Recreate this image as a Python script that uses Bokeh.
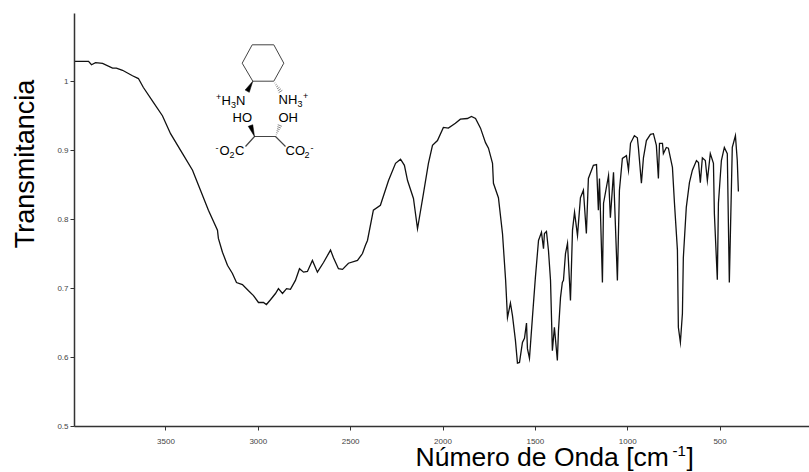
from bokeh.plotting import figure
from bokeh.models import Range1d
from bokeh.core.properties import value
from bokeh.embed import file_html
from bokeh.resources import INLINE
import math

wavenumber = [3995,3919,3903,3881,3843,3789,3768,3735,3681,3649,3622,3567,3519,3475,3410,3356,3340,3313,3270,3221,3216,3194,3167,3140,3118,3086,3053,3026,2999,2972,2956,2934,2907,2891,2869,2847,2826,2799,2777,2755,2734,2707,2680,2647,2609,2593,2566,2544,2512,2463,2436,2420,2409,2377,2339,2295,2257,2230,2209,2192,2160,2138,2133,2106,2079,2057,2030,1998,1971,1933,1906,1868,1846,1824,1797,1770,1754,1732,1727,1700,1678,1661,1651,1635,1624,1608,1597,1586,1570,1559,1548,1543,1532,1516,1500,1483,1467,1456,1451,1440,1429,1418,1408,1397,1381,1375,1364,1354,1348,1337,1326,1310,1299,1288,1272,1256,1240,1224,1213,1186,1169,1159,1153,1137,1131,1104,1094,1077,1056,1045,1029,1007,996,985,964,948,942,926,915,899,877,861,845,834,828,812,807,791,780,758,747,731,726,715,704,699,683,666,650,628,617,607,596,580,569,553,536,531,515,509,493,477,461,450,434,417,407,401]
transmittance = [1.030,1.030,1.025,1.028,1.027,1.020,1.020,1.017,1.009,1.005,0.992,0.970,0.951,0.925,0.896,0.872,0.861,0.843,0.814,0.785,0.773,0.753,0.734,0.722,0.709,0.706,0.697,0.690,0.680,0.680,0.677,0.684,0.693,0.700,0.693,0.700,0.699,0.712,0.729,0.724,0.725,0.741,0.724,0.738,0.756,0.745,0.729,0.728,0.737,0.741,0.751,0.763,0.770,0.814,0.821,0.857,0.882,0.888,0.879,0.857,0.831,0.787,0.795,0.838,0.882,0.908,0.915,0.934,0.933,0.940,0.946,0.947,0.950,0.947,0.933,0.912,0.904,0.882,0.853,0.832,0.780,0.712,0.658,0.679,0.661,0.625,0.592,0.593,0.622,0.628,0.650,0.613,0.599,0.658,0.716,0.770,0.782,0.758,0.780,0.783,0.755,0.712,0.610,0.644,0.596,0.639,0.687,0.709,0.712,0.751,0.766,0.683,0.785,0.811,0.777,0.832,0.843,0.780,0.860,0.879,0.880,0.814,0.860,0.709,0.824,0.864,0.803,0.869,0.712,0.843,0.889,0.893,0.872,0.911,0.922,0.919,0.904,0.853,0.890,0.915,0.924,0.925,0.908,0.860,0.911,0.911,0.896,0.905,0.904,0.876,0.824,0.756,0.644,0.622,0.664,0.745,0.818,0.854,0.872,0.886,0.883,0.854,0.890,0.886,0.857,0.896,0.882,0.809,0.713,0.824,0.886,0.905,0.896,0.709,0.905,0.922,0.886,0.841]

x_ticks = [3500, 3000, 2500, 2000, 1500, 1000, 500]
y_ticks = [1.0, 0.9, 0.8, 0.7, 0.6, 0.5]
y_tick_labels = {1.0: "1", 0.9: "0.9", 0.8: "0.8", 0.7: "0.7", 0.6: "0.6", 0.5: "0.5"}
FONT = value("Liberation Sans")

p = figure(width=809, height=472, output_backend="svg", toolbar_location=None,
           x_range=Range1d(3995, 16), y_range=Range1d(0.5, 1.0994),
           min_border_left=74, min_border_right=0, min_border_top=13, min_border_bottom=46)
p.outline_line_color = None
p.grid.visible = False
p.background_fill_color = "white"

for ax in (p.xaxis[0], p.yaxis[0]):
    ax.axis_line_color = "#333333"
    ax.axis_line_width = 1.5
    ax.major_tick_line_color = "#333333"
    ax.major_tick_line_width = 1
    ax.major_tick_in = 0
    ax.major_tick_out = 4
    ax.minor_tick_line_color = None
    ax.major_label_text_font = "Liberation Sans"
    ax.major_label_text_font_size = "8px"
    ax.major_label_text_color = "#444444"
p.xaxis[0].ticker = x_ticks
p.yaxis[0].ticker = y_ticks
p.yaxis[0].major_label_overrides = y_tick_labels
p.xaxis[0].major_label_standoff = 8
p.yaxis[0].major_label_standoff = 2

p.line(wavenumber, transmittance, line_color="#111111", line_width=1.3, line_join="miter")

# page-pixel coordinate system for the annotation drawing and free-standing titles
p.extra_x_ranges["px"] = Range1d(74, 809)
p.extra_y_ranges["px"] = Range1d(426, 13)
PX = dict(x_range_name="px", y_range_name="px")


def txt(s, x, y, size, angle=0.0, align="left"):
    # the renderer sets alphabetic text about 0.37 em past the requested baseline
    off = 0.37 * size
    if angle:
        x -= off
    else:
        y -= off
    p.text([x], [y], text=[s], text_font=FONT, text_font_size=value(f"{size}px"),
           text_color="black", text_align=align, text_baseline="alphabetic",
           angle=angle, level="overlay", **PX)


txt("Transmitancia", 34, 163.5, 27, angle=math.pi / 2, align="center")
txt("Número de Onda [cm", 415, 466, 26.5)
txt("-1", 672, 456, 15)
txt("]", 686, 466, 26.5)

# molecule
ring_x = [251.7, 273.3, 283.3, 273.3, 252.3, 241.7, 251.7]
ring_y = [44.3, 44.3, 62.7, 80.7, 80.7, 62.7, 44.3]
bond_color = "#444444"
p.line(ring_x, ring_y, line_color=bond_color, line_width=1, level="overlay", **PX)
p.line([245, 254, 275, 285], [146, 136, 136, 146], line_color=bond_color, line_width=1.2, level="overlay", **PX)


def wedge(x0, y0, x1, y1, w=2.4):
    dx, dy = x1 - x0, y1 - y0
    n = math.hypot(dx, dy)
    ox, oy = -dy / n * w, dx / n * w
    p.patch([x0, x1 + ox, x1 - ox], [y0, y1 + oy, y1 - oy], fill_color="black", line_color="black",
            line_width=0.5, level="overlay", **PX)


def hashed(x0, y0, x1, y1, w=2.2, k=6):
    dx, dy = x1 - x0, y1 - y0
    n = math.hypot(dx, dy)
    ox, oy = -dy / n, dx / n
    xs, ys = [], []
    for i in range(1, k + 1):
        t = i / k
        cx, cy = x0 + dx * t, y0 + dy * t
        xs.append([cx - ox * w * t, cx + ox * w * t])
        ys.append([cy - oy * w * t, cy + oy * w * t])
    p.multi_line(xs, ys, line_color="#555555", line_width=0.7, level="overlay", **PX)


wedge(252.3, 80.7, 246.7, 90.7)
hashed(273.3, 80.7, 280, 91)
wedge(254, 136, 250, 125)
hashed(275, 136, 279.3, 125)

for s, x, y, size in [
    ("+", 215.5, 100, 9), ("H", 221, 105, 13), ("3", 230.4, 108, 9), ("N", 235.5, 105, 13),
    ("NH", 278, 104, 13), ("3", 297, 107, 9), ("+", 302.5, 99, 9),
    ("HO", 232, 121.7, 13), ("OH", 278, 121.7, 13),
    ("-", 215, 151, 9), ("O", 219, 155, 13), ("2", 229, 158, 9), ("C", 234.5, 155, 13),
    ("CO", 285, 155, 13), ("2", 304, 158, 9), ("-", 310, 151, 9),
]:
    txt(s, x, y, size)

open("out.html", "w").write(file_html(p, INLINE))
